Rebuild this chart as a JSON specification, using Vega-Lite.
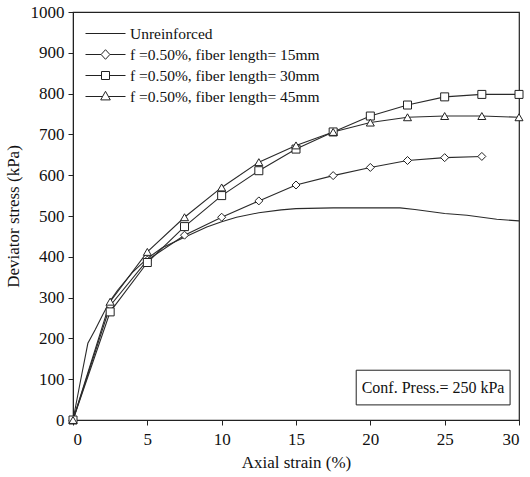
{
  "$schema": "https://vega.github.io/schema/vega-lite/v6.json",
  "width": 446,
  "height": 408,
  "autosize": {"type": "none"},
  "padding": {"left": 73, "top": 12, "right": 11, "bottom": 57},
  "config": {
    "font": "Liberation Serif",
    "view": {"stroke": "#222", "strokeWidth": 1.2},
    "axis": {
      "grid": false,
      "domainColor": "#222",
      "tickColor": "#222",
      "labelColor": "#111",
      "titleColor": "#111",
      "labelFont": "Liberation Serif",
      "titleFont": "Liberation Serif",
      "labelFontSize": 17,
      "titleFontSize": 17,
      "titleFontWeight": "normal",
      "tickSize": 5,
      "labelPadding": 4
    },
    "legend": {
      "labelFont": "Liberation Serif",
      "labelFontSize": 15.5,
      "labelColor": "#111",
      "labelLimit": 0
    }
  },
  "datasets": {
    "curves": [
      {"series": "Unreinforced", "strain": 0, "stress": 0},
      {"series": "Unreinforced", "strain": 0.5, "stress": 95},
      {"series": "Unreinforced", "strain": 1, "stress": 188},
      {"series": "Unreinforced", "strain": 1.5, "stress": 222},
      {"series": "Unreinforced", "strain": 2, "stress": 258},
      {"series": "Unreinforced", "strain": 2.5, "stress": 292},
      {"series": "Unreinforced", "strain": 3, "stress": 318},
      {"series": "Unreinforced", "strain": 4, "stress": 362},
      {"series": "Unreinforced", "strain": 5, "stress": 396},
      {"series": "Unreinforced", "strain": 6, "stress": 422},
      {"series": "Unreinforced", "strain": 7.5, "stress": 448},
      {"series": "Unreinforced", "strain": 9, "stress": 473},
      {"series": "Unreinforced", "strain": 10, "stress": 486},
      {"series": "Unreinforced", "strain": 11, "stress": 497},
      {"series": "Unreinforced", "strain": 12.5, "stress": 508},
      {"series": "Unreinforced", "strain": 14, "stress": 515},
      {"series": "Unreinforced", "strain": 15, "stress": 518},
      {"series": "Unreinforced", "strain": 17.5, "stress": 520},
      {"series": "Unreinforced", "strain": 20, "stress": 520},
      {"series": "Unreinforced", "strain": 22, "stress": 520},
      {"series": "Unreinforced", "strain": 23, "stress": 516},
      {"series": "Unreinforced", "strain": 25, "stress": 506},
      {"series": "Unreinforced", "strain": 26.5, "stress": 502},
      {"series": "Unreinforced", "strain": 28.5, "stress": 492},
      {"series": "Unreinforced", "strain": 30, "stress": 488},
      {"series": "f =0.50%, fiber length= 15mm", "strain": 0, "stress": 0},
      {"series": "f =0.50%, fiber length= 15mm", "strain": 2.5, "stress": 280},
      {"series": "f =0.50%, fiber length= 15mm", "strain": 5, "stress": 392},
      {"series": "f =0.50%, fiber length= 15mm", "strain": 7.5, "stress": 453},
      {"series": "f =0.50%, fiber length= 15mm", "strain": 10, "stress": 497},
      {"series": "f =0.50%, fiber length= 15mm", "strain": 12.5, "stress": 537},
      {"series": "f =0.50%, fiber length= 15mm", "strain": 15, "stress": 576},
      {"series": "f =0.50%, fiber length= 15mm", "strain": 17.5, "stress": 599},
      {"series": "f =0.50%, fiber length= 15mm", "strain": 20, "stress": 619},
      {"series": "f =0.50%, fiber length= 15mm", "strain": 22.5, "stress": 636},
      {"series": "f =0.50%, fiber length= 15mm", "strain": 25, "stress": 643},
      {"series": "f =0.50%, fiber length= 15mm", "strain": 27.5, "stress": 646},
      {"series": "f =0.50%, fiber length= 30mm", "strain": 0, "stress": 0},
      {"series": "f =0.50%, fiber length= 30mm", "strain": 2.5, "stress": 265},
      {"series": "f =0.50%, fiber length= 30mm", "strain": 5, "stress": 386},
      {"series": "f =0.50%, fiber length= 30mm", "strain": 7.5, "stress": 474},
      {"series": "f =0.50%, fiber length= 30mm", "strain": 10, "stress": 550},
      {"series": "f =0.50%, fiber length= 30mm", "strain": 12.5, "stress": 611},
      {"series": "f =0.50%, fiber length= 30mm", "strain": 15, "stress": 664},
      {"series": "f =0.50%, fiber length= 30mm", "strain": 17.5, "stress": 706},
      {"series": "f =0.50%, fiber length= 30mm", "strain": 20, "stress": 745},
      {"series": "f =0.50%, fiber length= 30mm", "strain": 22.5, "stress": 772},
      {"series": "f =0.50%, fiber length= 30mm", "strain": 25, "stress": 792},
      {"series": "f =0.50%, fiber length= 30mm", "strain": 27.5, "stress": 798},
      {"series": "f =0.50%, fiber length= 30mm", "strain": 30, "stress": 798},
      {"series": "f =0.50%, fiber length= 45mm", "strain": 0, "stress": 0},
      {"series": "f =0.50%, fiber length= 45mm", "strain": 2.5, "stress": 290},
      {"series": "f =0.50%, fiber length= 45mm", "strain": 5, "stress": 412},
      {"series": "f =0.50%, fiber length= 45mm", "strain": 7.5, "stress": 497},
      {"series": "f =0.50%, fiber length= 45mm", "strain": 10, "stress": 570},
      {"series": "f =0.50%, fiber length= 45mm", "strain": 12.5, "stress": 632},
      {"series": "f =0.50%, fiber length= 45mm", "strain": 15, "stress": 673},
      {"series": "f =0.50%, fiber length= 45mm", "strain": 17.5, "stress": 706},
      {"series": "f =0.50%, fiber length= 45mm", "strain": 20, "stress": 729},
      {"series": "f =0.50%, fiber length= 45mm", "strain": 22.5, "stress": 742},
      {"series": "f =0.50%, fiber length= 45mm", "strain": 25, "stress": 745},
      {"series": "f =0.50%, fiber length= 45mm", "strain": 27.5, "stress": 745},
      {"series": "f =0.50%, fiber length= 45mm", "strain": 30, "stress": 742}
    ],
    "legendItems": [
      {"series": "Unreinforced"},
      {"series": "f =0.50%, fiber length= 15mm"},
      {"series": "f =0.50%, fiber length= 30mm"},
      {"series": "f =0.50%, fiber length= 45mm"}
    ],
    "note": [
      {"label": "Conf. Press.= 250 kPa", "x0": 19.05, "x1": 29.4, "y0": 37, "y1": 122, "xc": 24.22, "yc": 79}
    ]
  },
  "layer": [
    {
      "data": {"name": "curves"},
      "mark": {"type": "line", "stroke": "#2a2a2a", "strokeWidth": 1.1},
      "encoding": {
        "x": {"field": "strain", "type": "quantitative", "scale": {"domain": [0, 30]}, "axis": {"values": [0, 5, 10, 15, 20, 25, 30], "title": "Axial strain (%)", "titlePadding": 7, "labelPadding": 6}},
        "y": {"field": "stress", "type": "quantitative", "scale": {"domain": [0, 1000]}, "axis": {"values": [0, 100, 200, 300, 400, 500, 600, 700, 800, 900, 1000], "format": "d", "title": "Deviator stress (kPa)", "titlePadding": 8}},
        "detail": {"field": "series"},
        "order": {"field": "strain", "type": "quantitative"}
      }
    },
    {
      "data": {"name": "curves"},
      "transform": [{"filter": "datum.series !== 'Unreinforced'"}],
      "mark": {"type": "point", "filled": true, "fill": "white", "stroke": "#222", "strokeWidth": 1, "size": 64, "opacity": 1},
      "encoding": {
        "x": {"field": "strain", "type": "quantitative"},
        "y": {"field": "stress", "type": "quantitative"},
        "shape": {
          "field": "series",
          "type": "nominal",
          "scale": {
            "domain": ["f =0.50%, fiber length= 15mm", "f =0.50%, fiber length= 30mm", "f =0.50%, fiber length= 45mm"],
            "range": ["diamond", "square", "triangle-up"]
          },
          "legend": null
        }
      }
    },
    {
      "data": {"name": "legendItems"},
      "mark": {"type": "point", "opacity": 0, "size": 400},
      "encoding": {
        "x": {"datum": 0},
        "y": {"datum": 0},
        "shape": {
          "field": "series",
          "type": "nominal",
          "sort": null,
          "scale": {
            "domain": ["Unreinforced", "f =0.50%, fiber length= 15mm", "f =0.50%, fiber length= 30mm", "f =0.50%, fiber length= 45mm"],
            "range": [
              "M-2,0L2,0",
              "M-2,0L-0.44,0M0.44,0L2,0M0,-0.48L0.44,0L0,0.48L-0.44,0Z",
              "M-2,0L-0.4,0M0.4,0L2,0M-0.4,-0.4L0.4,-0.4L0.4,0.4L-0.4,0.4Z",
              "M-2,0L-0.3,0M0.3,0L2,0M0,-0.52L0.48,0.34L-0.48,0.34Z"
            ]
          },
          "legend": {
            "title": null,
            "orient": "none",
            "legendX": 22,
            "legendY": 11,
            "symbolSize": 400,
            "symbolOpacity": 1,
            "symbolFillColor": "white",
            "symbolStrokeColor": "#222",
            "symbolStrokeWidth": 1,
            "labelOffset": 14,
            "rowPadding": 2,
            "padding": 0
          }
        }
      }
    },
    {
      "data": {"name": "note"},
      "mark": {"type": "rect", "fill": "white", "stroke": "#222", "strokeWidth": 1},
      "encoding": {
        "x": {"field": "x0", "type": "quantitative"},
        "x2": {"field": "x1"},
        "y": {"field": "y0", "type": "quantitative"},
        "y2": {"field": "y1"}
      }
    },
    {
      "data": {"name": "note"},
      "mark": {"type": "text", "font": "Liberation Serif", "fontSize": 16, "color": "#111", "align": "center", "baseline": "middle"},
      "encoding": {
        "x": {"field": "xc", "type": "quantitative"},
        "y": {"field": "yc", "type": "quantitative"},
        "text": {"field": "label"}
      }
    }
  ],
  "resolve": {"scale": {"shape": "independent"}}
}
